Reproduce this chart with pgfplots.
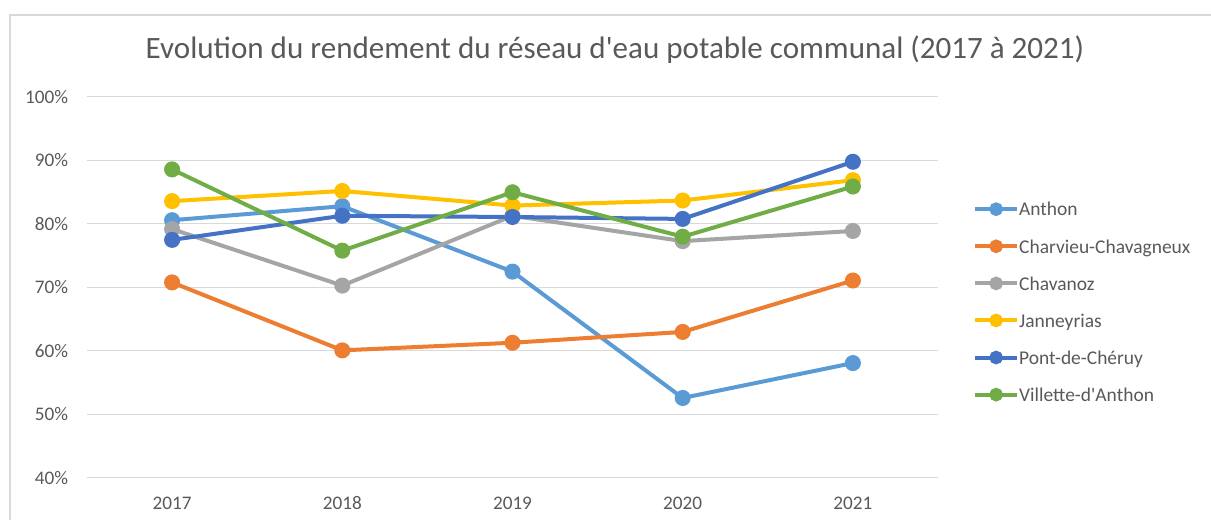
\documentclass[border=0pt]{standalone}
\usepackage{fontspec}
\setmainfont{Carlito}
\usepackage{pgfplots}
\pgfplotsset{compat=1.18}
\usepackage{xcolor}

\definecolor{txt}{HTML}{595959}
\definecolor{gridc}{HTML}{D9D9D9}
\definecolor{cAnthon}{HTML}{5B9BD5}
\definecolor{cCharvieu}{HTML}{ED7D31}
\definecolor{cChavanoz}{HTML}{A5A5A5}
\definecolor{cJanney}{HTML}{FFC000}
\definecolor{cPont}{HTML}{4472C4}
\definecolor{cVillette}{HTML}{70AD47}

\begin{document}
\begin{tikzpicture}
% 1 px of the reference = 0.75pt
\path[use as bounding box] (0,0) rectangle (908.25pt,-390pt);
\draw[gridc, line width=0.9pt] (7.5pt,-390pt) -- (7.5pt,-11.25pt) -- (908.25pt,-11.25pt);

\node[font=\fontsize{23.3}{27}\selectfont, text=txt] at (461.25pt,-37.5pt)
  {Evolution du rendement du réseau d\textquotesingle eau potable communal (2017 à 2021)};

\begin{axis}[
  anchor=north west,
  at={(65.25pt,-72.75pt)},
  width=638.25pt,
  height=285.75pt,
  scale only axis,
  xmin=2016.5, xmax=2021.5,
  ymin=40, ymax=100,
  xtick={2017,2018,2019,2020,2021},
  ytick={40,50,60,70,80,90,100},
  xticklabel style={/pgf/number format/1000 sep={}},
  yticklabel={\pgfmathprintnumber{\tick}\%},
  /pgf/number format/assume math mode=true,
  tick label style={font=\fontsize{14.4}{17}\selectfont, text=txt, inner sep=0pt},
  xticklabel style={anchor=center, yshift=-18.75pt},
  yticklabel style={anchor=east, xshift=-14pt},
  major tick length=0pt,
  axis line style={draw=none},
  ymajorgrids,
  grid style={gridc, line width=0.75pt},
  every axis plot/.append style={line width=3pt, mark=*, mark size=4.5pt},
  legend cell align=left,
  legend style={
    at={(1.041,0.724)}, anchor=north west,
    draw=none, fill=none,
    font=\fontsize{14.6}{17}\selectfont, text=txt,
    row sep=17.7pt, inner sep=0pt,
    nodes={inner sep=0pt, text depth=0pt},
  },
  legend image code/.code={
    \draw[#1, mark size=3.6pt, mark repeat=2, mark phase=2]
      plot coordinates {(0pt,0pt) (15.75pt,0pt) (31.5pt,0pt)};
  },
  legend style={/tikz/every even column/.append style={column sep=4.5pt}},
]
\addplot[color=cAnthon] coordinates {
  (2017,80.6) (2018,82.8) (2019,72.5) (2020,52.6) (2021,58.1)};
\addlegendentry{Anthon}
\addplot[color=cCharvieu] coordinates {
  (2017,70.8) (2018,60.1) (2019,61.3) (2020,63.0) (2021,71.1)};
\addlegendentry{Charvieu-Chavagneux}
\addplot[color=cChavanoz] coordinates {
  (2017,79.2) (2018,70.3) (2019,81.3) (2020,77.3) (2021,78.9)};
\addlegendentry{Chavanoz}
\addplot[color=cJanney] coordinates {
  (2017,83.6) (2018,85.2) (2019,82.9) (2020,83.7) (2021,86.9)};
\addlegendentry{Janneyrias}
\addplot[color=cPont] coordinates {
  (2017,77.5) (2018,81.3) (2019,81.1) (2020,80.8) (2021,89.8)};
\addlegendentry{Pont-de-Chéruy}
\addplot[color=cVillette] coordinates {
  (2017,88.6) (2018,75.8) (2019,85.0) (2020,78.0) (2021,85.9)};
\addlegendentry{Villette-d\textquotesingle Anthon}
\end{axis}
\end{tikzpicture}
\end{document}
